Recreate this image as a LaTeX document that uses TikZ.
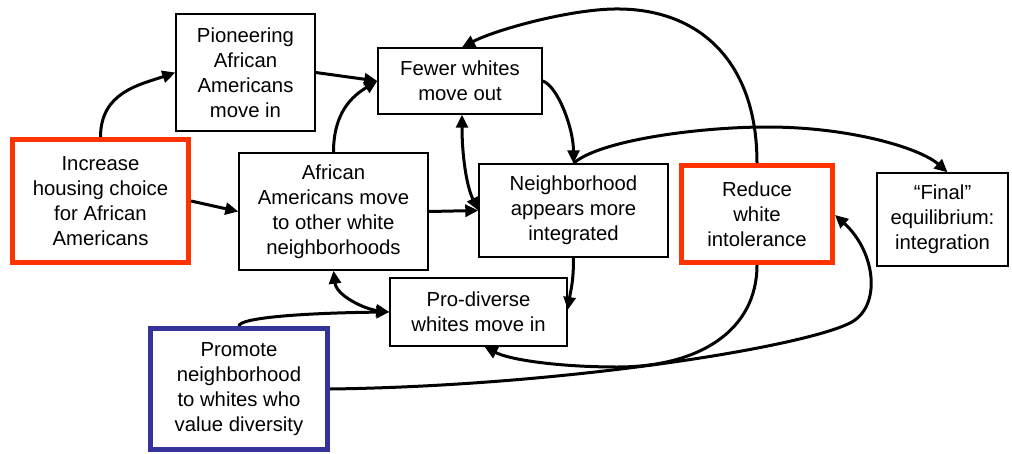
\documentclass[tikz,border=0pt]{standalone}
\usepackage{fontspec}
\setmainfont{Liberation Sans}
\usetikzlibrary{arrows.meta}
\definecolor{redb}{HTML}{FF3300}
\definecolor{blueb}{HTML}{333399}
\begin{document}
\begin{tikzpicture}[x=1pt,y=-1pt,
  box/.style={draw=black, line width=1.4pt, fill=white, align=center, inner sep=0pt, font=\fontsize{20.3}{25}\selectfont},
  redbox/.style={box, draw=redb, line width=5pt},
  bluebox/.style={box, draw=blueb, line width=5pt},
  arr/.style={line width=3pt, -{Triangle[length=13pt,width=12pt]}},
  darr/.style={line width=3pt, {Triangle[length=13pt,width=12pt]}-{Triangle[length=13pt,width=12pt]}}]
\useasboundingbox (0,0) rectangle (1012,453);
\node[box, minimum width=139pt, minimum height=117pt] (pion) at (245.5,72.5) {Pioneering\\African\\Americans\\move in};
\node[redbox, minimum width=176pt, minimum height=123pt] (inc) at (100.5,201) {Increase\\housing choice\\for African\\Americans};
\node[box, minimum width=189pt, minimum height=117pt] (afr) at (333.5,211.5) {African\\Americans move\\to other white\\neighborhoods};
\node[box, minimum width=164pt, minimum height=66pt] (fewer) at (460,81) {Fewer whites\\move out};
\node[box, minimum width=189pt, minimum height=93pt] (neigh) at (573.5,210.5) {Neighborhood\\appears more\\integrated};
\node[redbox, minimum width=151pt, minimum height=97pt] (reduce) at (757,214) {Reduce\\white\\intolerance};
\node[box, minimum width=131pt, minimum height=93pt] (final) at (942.5,219.5) {“Final”\\equilibrium:\\integration};
\node[box, minimum width=177pt, minimum height=68pt] (pro) at (478.5,312) {Pro-diverse\\whites move in};
\node[bluebox, minimum width=177pt, minimum height=121pt] (promote) at (239,389) {Promote\\neighborhood\\to whites who\\value diversity};
% connectors
\draw[arr] (inc.north) .. controls +(0,-45) and +(-35,12) .. (pion.west);
\draw[arr] (pion.east) -- (fewer.west);
\draw[arr] (afr.north) .. controls +(0,-40) and +(-25,15) .. (fewer.west);
\draw[arr] (inc.east) -- (afr.west);
\draw[arr] (afr.east) -- (neigh.west);
\draw[darr] ([xshift=2pt]fewer.south) .. controls +(0,40) and +(-12,-25) .. (neigh.west);
\draw[arr] (fewer.east) .. controls +(15,5) and +(0,-35) .. (neigh.north);
\coordinate (top) at (620,9);
\draw[arr] (reduce.north) .. controls (757,62) and (700,10) .. (top) .. controls (575,8) and (497,29) .. ([xshift=2pt]fewer.north);
\coordinate (peak) at (767,127);
\draw[arr] (neigh.north) .. controls (600,140) and (700,127) .. (peak) .. controls (850,127) and (920,148) .. ([xshift=5pt]final.north);
\draw[arr] (neigh.south) .. controls +(0,25) and +(3,-20) .. ([yshift=2pt]pro.east);
\coordinate (low) at (617,367);
\draw[arr] (reduce.south) .. controls (757,330) and (700,367) .. (low) .. controls (560,367) and (510,360) .. ([xshift=6pt]pro.south);
\coordinate (bend) at (850,323);
\draw[arr] (promote.east) .. controls (560,386) and (800,348) .. (bend) .. controls (882,307) and (876,252) .. ([yshift=-1pt]reduce.east);
\draw[darr] (afr.south) .. controls +(3,25) and +(-25,-3) .. (pro.west);
\draw[arr] (promote.north) .. controls (239,318) and (300,313) .. (pro.west);
\end{tikzpicture}
\end{document}
